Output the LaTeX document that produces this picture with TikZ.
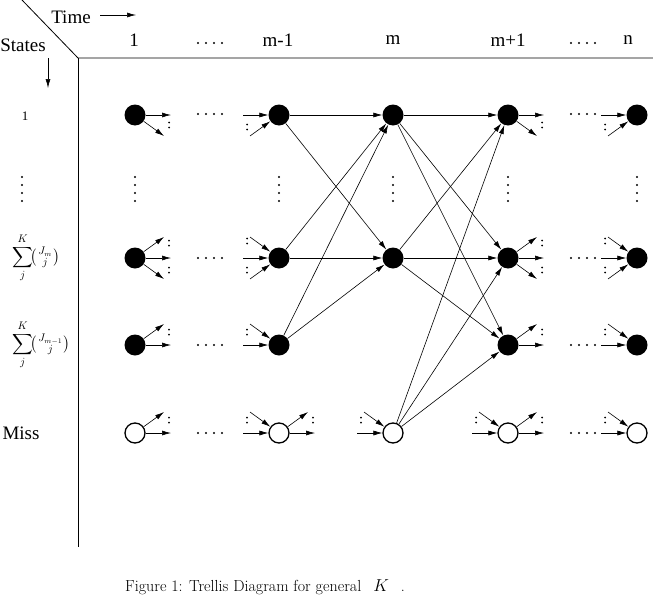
\documentclass[tikz,border=0pt]{standalone}
\usepackage{fontspec}
\usepackage{amsmath}
\newfontfamily\lab{Liberation Serif}
\usetikzlibrary{arrows.meta}
\newcommand\pd[3]{\fill ([shift={(#2,#3-2.5)}]#1.center) circle (1pt) ([shift={(#2,#3+2.5)}]#1.center) circle (1pt);}
\newcommand\oR[1]{\draw[arr] (#1) -- ++(36,0);}
\newcommand\oU[1]{\draw[arr] (#1) -- ++(29,-21);}
\newcommand\oD[1]{\draw[arr] (#1) -- ++(29,21);}
\newcommand\iL[1]{\draw[arr] ([shift={(-36,0)}]#1.center) -- (#1);}
\newcommand\iU[1]{\draw[arr] ([shift={(-29,-21)}]#1.center) -- (#1);}
\newcommand\iD[1]{\draw[arr] ([shift={(-29,21)}]#1.center) -- (#1);}
\newcommand\smallbinom[2]{\bigl(\genfrac{}{}{0pt}{1}{#1}{#2}\bigr)}
\begin{document}
\begin{tikzpicture}[x=1pt,y=-1pt,
  full/.style={circle,fill=black,minimum size=21pt,inner sep=0pt},
  miss/.style={circle,draw,line width=1.3pt,fill=white,minimum size=20pt,inner sep=0pt},
  arr/.style={-{Latex[length=9pt,width=5pt]},line width=0.6pt},
  lbl/.style={font=\lab\fontsize{19}{22}\selectfont,inner sep=0pt},
  small/.style={font=\lab\fontsize{13}{15}\selectfont,inner sep=0pt},
  sumlbl/.style={font=\fontsize{15}{17}\selectfont,inner sep=0pt}
]
\useasboundingbox (0,0) rectangle (653,605);
% frame
\draw[line width=0.8pt] (22,0) -- (78,58) -- (653,58);
\draw[line width=0.8pt] (78,58) -- (78,547);
% header
\node[lbl] (time) at (71,17) {Time};
\coordinate (t1) at (100,15); \coordinate (t2) at (136,15);
\draw[arr] (t1) -- (t2);
\node[lbl] (states) at (23,45) {States};
\coordinate (s1) at (48,58); \coordinate (s2) at (48,88);
\draw[arr] (s1) -- (s2);
\node[lbl] (h1) at (134,40) {1};
\node[lbl] (h2) at (278,40) {m-1};
\node[lbl] (h3) at (393,40) {m};
\node[lbl] (h4) at (508,40) {m+1};
\node[lbl] (h5) at (628,40) {n};
\foreach \x in {198,206,214,222,571,579,587,595} \fill (\x,43) circle (1.1pt);
% row labels
\node[small] (r1) at (25,116) {1};
\foreach \y in {177,185,193,201} \fill (22,\y) circle (1.1pt);
\node[sumlbl,anchor=west] (r2) at (12,258) {$\displaystyle\sum_{j}^{K}\!\smallbinom{J_m}{j}$};
\node[sumlbl,anchor=west] (r3) at (12,345) {$\displaystyle\sum_{j}^{K}\!\smallbinom{J_{m-1}}{j}$};
\node[lbl] (r4) at (21,433) {Miss};
% nodes
\foreach \c/\x in {a/135,b/279,d/508,e/637}{
  \node[full] (\c1) at (\x,115) {};
  \node[full] (\c2) at (\x,258) {};
  \node[full] (\c3) at (\x,345) {};
  \node[miss] (\c4) at (\x,433) {};
}
\node[full] (c1) at (393,115) {};
\node[full] (c2) at (393,258) {};
\node[miss] (c4) at (393,433) {};
\foreach \x in {135,279,393,508,637}
  \foreach \y in {177,185,193,201} \fill (\x,\y) circle (1.1pt);
% horizontal dots
\foreach \y in {114,258,345,433}{
  \foreach \x in {198,206,214,222,571,579,587,595} \fill (\x,\y) circle (1.1pt);
}
% main edges
\foreach \s/\t in {b1/c1,b1/c2,b2/c1,b2/c2,b3/c1,b3/c2,
  c1/d1,c1/d2,c1/d3,c2/d1,c2/d2,c2/d3,c4/d1,c4/d2,c4/d3}
  \draw[arr] (\s) -- (\t);
% outgoing stubs
\oR{a1}\oD{a1}\pd{a1}{34}{10}
\oU{a2}\oR{a2}\oD{a2}\pd{a2}{34}{-15}\pd{a2}{34}{12}
\oU{a3}\oR{a3}\pd{a3}{34}{-13}
\oU{a4}\oR{a4}\pd{a4}{34}{-13}
\oR{d1}\oD{d1}\pd{d1}{34}{10}
\oU{d2}\oR{d2}\oD{d2}\pd{d2}{34}{-15}\pd{d2}{34}{12}
\oU{d3}\oR{d3}\pd{d3}{34}{-13}
\oU{d4}\oR{d4}\pd{d4}{34}{-13}
\oU{b4}\oR{b4}\pd{b4}{34}{-13}
% incoming stubs
\iL{b1}\iD{b1}\pd{b1}{-32}{12}
\iU{b2}\iL{b2}\iD{b2}\pd{b2}{-32}{-17}\pd{b2}{-32}{12}
\iU{b3}\iL{b3}\pd{b3}{-32}{-13}
\iU{b4}\iL{b4}\pd{b4}{-32}{-13}
\iU{c4}\iL{c4}\pd{c4}{-32}{-13}
\iU{d4}\iL{d4}\pd{d4}{-32}{-13}
\iL{e1}\iD{e1}\pd{e1}{-32}{12}
\iU{e2}\iL{e2}\iD{e2}\pd{e2}{-32}{-17}\pd{e2}{-32}{12}
\iU{e3}\iL{e3}\pd{e3}{-32}{-13}
\iU{e4}\iL{e4}\pd{e4}{-32}{-13}
% caption
\node[anchor=base west,inner sep=0pt,font=\fontsize{16}{19}\selectfont] (cap) at (125,591) {Figure 1: Trellis Diagram for general\hspace{12pt}$K$\hspace{12pt}.};
\end{tikzpicture}
\end{document}
